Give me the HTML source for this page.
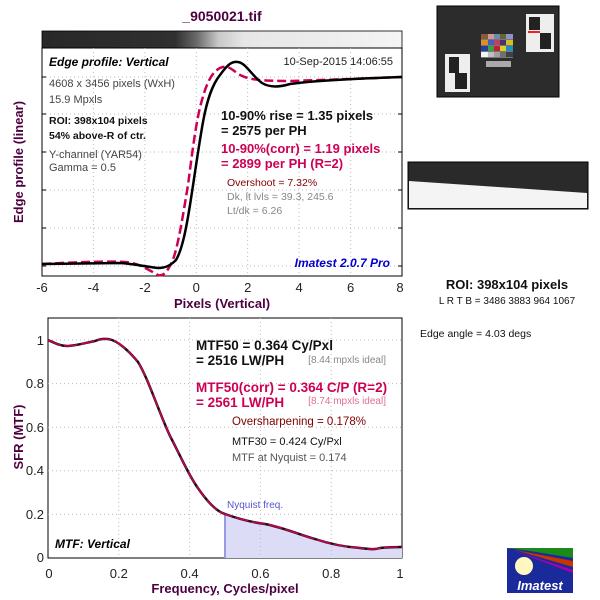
<!DOCTYPE html>
<html><head><meta charset="utf-8"><style>
html,body{margin:0;padding:0;background:#fff;}
svg{display:block;font-family:"Liberation Sans",Arial,sans-serif;}
</style></head><body>
<svg width="600" height="600" viewBox="0 0 600 600" xmlns="http://www.w3.org/2000/svg">
<defs>
<linearGradient id="g" x1="0" x2="1" y1="0" y2="0">
<stop offset="0" stop-color="#282828"/><stop offset="0.37" stop-color="#303030"/>
<stop offset="0.43" stop-color="#6a6a6a"/><stop offset="0.49" stop-color="#c8c8c8"/>
<stop offset="0.56" stop-color="#e6e6e6"/><stop offset="1" stop-color="#f4f4f4"/>
</linearGradient>
</defs>
<rect width="600" height="600" fill="#fff"/>
<text x="222" y="21" text-anchor="middle" font-size="14" font-weight="bold" fill="#4d0040">_9050021.tif</text>
<rect x="42" y="31" width="360" height="17" fill="url(#g)" stroke="#000" stroke-width="0.8"/>
<rect x="42" y="48" width="360" height="228" fill="#fff" stroke="#000"/>
<g stroke="#bbb" stroke-dasharray="1,3" stroke-width="1">
<line x1="93.4" y1="48" x2="93.4" y2="276"/><line x1="144.9" y1="48" x2="144.9" y2="276"/>
<line x1="196.3" y1="48" x2="196.3" y2="276"/><line x1="247.7" y1="48" x2="247.7" y2="276"/>
<line x1="299.1" y1="48" x2="299.1" y2="276"/><line x1="350.6" y1="48" x2="350.6" y2="276"/>
<line x1="42" y1="77" x2="402" y2="77"/><line x1="42" y1="114" x2="402" y2="114"/>
<line x1="42" y1="152" x2="402" y2="152"/><line x1="42" y1="190" x2="402" y2="190"/>
<line x1="42" y1="228" x2="402" y2="228"/><line x1="42" y1="266" x2="402" y2="266"/>
</g>
<g stroke="#000">
<line x1="42" y1="77" x2="46" y2="77"/><line x1="42" y1="114" x2="46" y2="114"/><line x1="42" y1="152" x2="46" y2="152"/><line x1="42" y1="190" x2="46" y2="190"/><line x1="42" y1="228" x2="46" y2="228"/><line x1="42" y1="266" x2="46" y2="266"/>
<line x1="398" y1="77" x2="402" y2="77"/><line x1="398" y1="114" x2="402" y2="114"/><line x1="398" y1="152" x2="402" y2="152"/><line x1="398" y1="190" x2="402" y2="190"/><line x1="398" y1="228" x2="402" y2="228"/><line x1="398" y1="266" x2="402" y2="266"/>
</g>
<path d="M42,264 C80,262 110,261 125,262 C140,263 150,271 158,275 C164,277 168,270 172,262 C178,248 183,215 188,185 C192,155 196,120 202,100 C207,82 212,72 220,68 C228,64 232,70 240,75 C250,80 262,81 290,81 L350,79 L402,77" fill="none" stroke="#cc0055" stroke-width="2.5" stroke-dasharray="9,4"/>
<path d="M42,264 L120,263 C135,264 148,267 158,268 C165,268 170,266 176,260 C182,250 186,230 190,205 C194,180 198,150 203,122 C207,100 212,85 220,75 C228,64 232,61 238,62 C246,63 252,76 262,83 C270,88 280,87 290,84 C310,81 340,79 402,77" fill="none" stroke="#000" stroke-width="2.5"/>
<g font-size="13" fill="#222" text-anchor="middle">
<text x="42" y="292">-6</text><text x="93.4" y="292">-4</text><text x="144.9" y="292">-2</text><text x="196.3" y="292">0</text><text x="247.7" y="292">2</text><text x="299.1" y="292">4</text><text x="350.6" y="292">6</text><text x="400" y="292">8</text>
</g>
<text x="222" y="308" text-anchor="middle" font-size="13" font-weight="bold" fill="#4d0040">Pixels (Vertical)</text>
<text transform="translate(23,162) rotate(-90)" text-anchor="middle" font-size="13" font-weight="bold" fill="#4d0040">Edge profile (linear)</text>
<text x="49" y="66" font-size="12" font-weight="bold" font-style="italic" fill="#000">Edge profile: Vertical</text>
<text x="393" y="65" text-anchor="end" font-size="11" fill="#222">10-Sep-2015 14:06:55</text>
<g font-size="11" fill="#444">
<text x="49" y="87">4608 x 3456 pixels (WxH)</text><text x="49" y="103">15.9 Mpxls</text>
<text x="49" y="124" font-weight="bold" font-size="10.5" fill="#111">ROI: 398x104 pixels</text>
<text x="49" y="139" font-weight="bold" font-size="10.5" fill="#111">54% above-R of ctr.</text>
<text x="49" y="158">Y-channel  (YAR54)</text><text x="49" y="171">Gamma = 0.5</text>
</g>
<g font-size="13" font-weight="bold">
<text x="221" y="120" fill="#111">10-90% rise = 1.35 pixels</text>
<text x="221" y="135" fill="#111">= 2575 per PH</text>
<text x="221" y="153" fill="#cc0055">10-90%(corr) = 1.19 pixels</text>
<text x="221" y="168" fill="#cc0055">= 2899 per PH  (R=2)</text>
</g>
<text x="227" y="186" font-size="10.5" fill="#800000">Overshoot = 7.32%</text>
<text x="227" y="200" font-size="10.5" fill="#888">Dk, lt lvls = 39.3, 245.6</text>
<text x="227" y="214" font-size="10.5" fill="#888">Lt/dk = 6.26</text>
<text x="390" y="267" text-anchor="end" font-size="12" font-weight="bold" font-style="italic" fill="#0000cc">Imatest 2.0.7 Pro</text>
<rect x="48" y="318" width="354" height="240" fill="#fff" stroke="#000"/>
<path d="M225,514 C236,518 250,522 265,524 C285,528 300,535 315,539 C330,544 345,547 360,548 C370,549 375,550 380,548 C390,547 395,547 402,547 L402,558 L225,558 Z" fill="#dcdcf6"/>
<g stroke="#bbb" stroke-dasharray="1,3">
<line x1="118.8" y1="318" x2="118.8" y2="558"/><line x1="189.6" y1="318" x2="189.6" y2="558"/><line x1="260.4" y1="318" x2="260.4" y2="558"/><line x1="331.2" y1="318" x2="331.2" y2="558"/>
<line x1="48" y1="340" x2="402" y2="340"/><line x1="48" y1="383.6" x2="402" y2="383.6"/><line x1="48" y1="427.2" x2="402" y2="427.2"/><line x1="48" y1="470.8" x2="402" y2="470.8"/><line x1="48" y1="514.4" x2="402" y2="514.4"/>
</g>
<line x1="225" y1="514" x2="225" y2="558" stroke="#9999e6" stroke-width="2"/>
<path d="M48,340 C55,343 60,346 67,346 C75,346 85,343 95,341 C100,339 106,338 112,340 C120,343 128,350 138,362 C148,378 158,410 170,436 C180,455 190,478 200,491 C210,505 218,512 225,514 C236,518 250,522 265,524 C285,528 300,535 315,539 C330,544 345,547 360,548 C370,549 375,550 380,548 C390,547 395,547 402,547" fill="none" stroke="#111" stroke-width="2.5"/>
<path d="M48,340 C55,343 60,346 67,346 C75,346 85,343 95,341 C100,339 106,338 112,340 C120,343 128,350 138,362 C148,378 158,410 170,436 C180,455 190,478 200,491 C210,505 218,512 225,514 C236,518 250,522 265,524 C285,528 300,535 315,539 C330,544 345,547 360,548 C370,549 375,550 380,548 C390,547 395,547 402,547" fill="none" stroke="#cc0055" stroke-width="1.6" stroke-dasharray="14,3"/>
<g font-size="13" fill="#222" text-anchor="end">
<text x="44" y="345">1</text><text x="44" y="388">0.8</text><text x="44" y="432">0.6</text><text x="44" y="475">0.4</text><text x="44" y="519">0.2</text><text x="44" y="562">0</text>
</g>
<g font-size="13" fill="#222" text-anchor="middle">
<text x="49" y="578">0</text><text x="118.8" y="578">0.2</text><text x="189.6" y="578">0.4</text><text x="260.4" y="578">0.6</text><text x="331.2" y="578">0.8</text><text x="400" y="578">1</text>
</g>
<text x="225" y="593" text-anchor="middle" font-size="13" font-weight="bold" fill="#4d0040">Frequency, Cycles/pixel</text>
<text transform="translate(23,437) rotate(-90)" text-anchor="middle" font-size="13" font-weight="bold" fill="#4d0040">SFR (MTF)</text>
<g font-size="13.5" font-weight="bold">
<text x="196" y="350" fill="#111">MTF50 = 0.364 Cy/Pxl</text>
<text x="196" y="365" fill="#111">= 2516 LW/PH</text>
<text x="196" y="392" fill="#cc0055">MTF50(corr) = 0.364 C/P  (R=2)</text>
<text x="196" y="407" fill="#cc0055">= 2561 LW/PH</text>
</g>
<text x="386" y="363" text-anchor="end" font-size="10" fill="#888">[8.44 mpxls ideal]</text>
<text x="386" y="404" text-anchor="end" font-size="10" fill="#e07090">[8.74 mpxls ideal]</text>
<text x="232" y="425" font-size="11.5" fill="#800000">Oversharpening = 0.178%</text>
<text x="232" y="445" font-size="11" fill="#111">MTF30 = 0.424 Cy/Pxl</text>
<text x="232" y="461" font-size="11" fill="#555">MTF at Nyquist = 0.174</text>
<text x="227" y="508" font-size="10" fill="#5555cc">Nyquist freq.</text>
<text x="55" y="548" font-size="12" font-weight="bold" font-style="italic" fill="#000">MTF: Vertical</text>
<rect x="437" y="6" width="122" height="91" fill="#2c2c2c" stroke="#000"/>
<rect x="445" y="54" width="25" height="38" fill="#eee"/><rect x="449" y="57" width="10" height="16" fill="#222"/><rect x="455" y="73" width="12" height="16" fill="#222"/>
<rect x="526" y="14" width="28" height="38" fill="#eee"/><rect x="529" y="17" width="11" height="13" fill="#222"/><rect x="540" y="33" width="11" height="16" fill="#222"/><rect x="528" y="31" width="12" height="2" fill="#e22"/>
<rect x="481" y="34" width="32" height="24" fill="#777"/>
<rect x="481" y="34" width="7" height="5" fill="#8a5a3a"/><rect x="488" y="34" width="6" height="5" fill="#d09a90"/><rect x="494" y="34" width="6" height="5" fill="#6a8ab0"/><rect x="500" y="34" width="6" height="5" fill="#606a30"/><rect x="506" y="34" width="7" height="5" fill="#9090d0"/>
<rect x="481" y="40" width="7" height="5" fill="#e09020"/><rect x="488" y="40" width="6" height="5" fill="#4060c0"/><rect x="494" y="40" width="6" height="5" fill="#c04060"/><rect x="500" y="40" width="6" height="5" fill="#503070"/><rect x="506" y="40" width="7" height="5" fill="#d0c020"/>
<rect x="481" y="46" width="7" height="5" fill="#2040a0"/><rect x="488" y="46" width="6" height="5" fill="#40a040"/><rect x="494" y="46" width="6" height="5" fill="#c02030"/><rect x="500" y="46" width="6" height="5" fill="#e0d020"/><rect x="506" y="46" width="7" height="5" fill="#2090c0"/>
<rect x="481" y="52" width="7" height="5" fill="#f4f4f4"/><rect x="488" y="52" width="6" height="5" fill="#c0c0c0"/><rect x="494" y="52" width="6" height="5" fill="#a0a0a0"/><rect x="500" y="52" width="6" height="5" fill="#707070"/><rect x="506" y="52" width="7" height="5" fill="#404040"/>
<rect x="486" y="61" width="25" height="6" fill="#aaa"/>
<rect x="408" y="162" width="180" height="47" fill="#2a2a2a" stroke="#000"/>
<polygon points="409,181 587,193 587,208 409,208" fill="#f4f4f4"/>
<text x="507" y="289" text-anchor="middle" font-size="13" font-weight="bold" fill="#111">ROI: 398x104 pixels</text>
<text x="507" y="304" text-anchor="middle" font-size="10" fill="#111">L R  T B = 3486 3883  964 1067</text>
<text x="420" y="337" font-size="10.5" fill="#111">Edge angle = 4.03 degs</text>
<rect x="507" y="548" width="66" height="45" fill="#1a2a9a"/>
<polygon points="507,548 573,548 573,558 530,551" fill="#1a8a1a"/>
<polygon points="515,550 573,561 573,567" fill="#cc3300"/>
<polygon points="512,550 573,570 573,573" fill="#aa00aa"/>
<circle cx="524" cy="566" r="9" fill="#fff8c0"/>
<text x="540" y="590" text-anchor="middle" font-size="13" font-weight="bold" font-style="italic" fill="#fff">Imatest</text>
</svg>
</body></html>
